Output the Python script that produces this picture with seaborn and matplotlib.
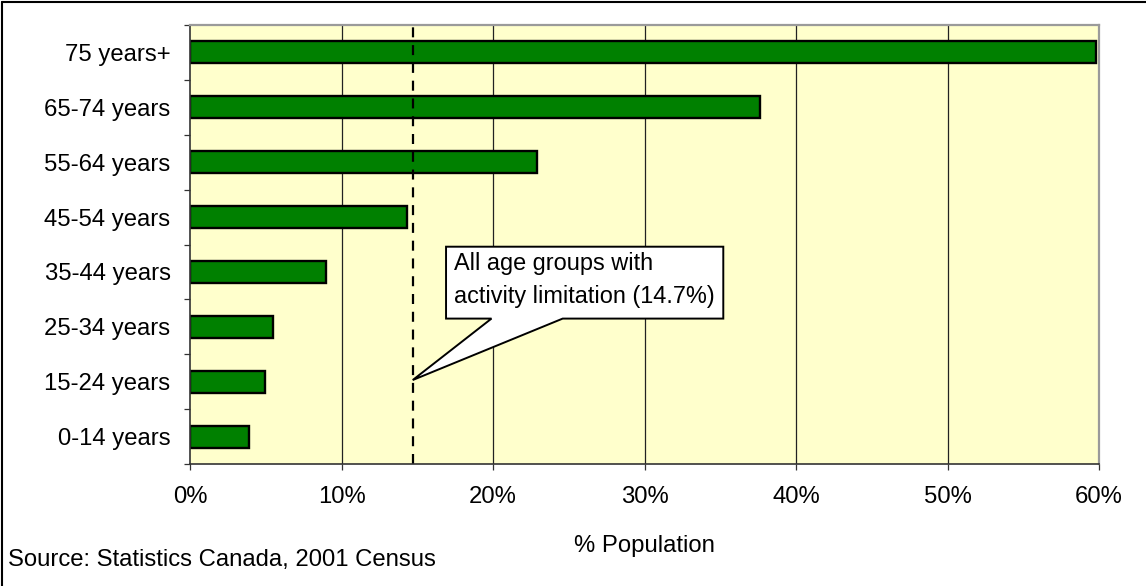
import matplotlib
matplotlib.use("Agg")
import matplotlib.pyplot as plt
from matplotlib.lines import Line2D
from matplotlib.patches import Polygon
from matplotlib.ticker import FixedLocator, FuncFormatter
import pandas as pd
import seaborn as sns

# Share of each age group reporting an activity limitation (%)
age_groups = ["75 years+", "65-74 years", "55-64 years", "45-54 years",
              "35-44 years", "25-34 years", "15-24 years", "0-14 years"]
pct_limited = [59.8, 37.6, 22.9, 14.3, 9.0, 5.5, 4.95, 3.9]
all_ages_pct = 14.7

x_ticks = [0, 10, 20, 30, 40, 50, 60]
x_label = "% Population"
source_note = "Source: Statistics Canada, 2001 Census"
callout_lines = ["All age groups with", "activity limitation (14.7%)"]

df = pd.DataFrame({"group": age_groups, "pct": pct_limited})

sns.set_theme(style="white")
plt.rcParams["font.family"] = ["Liberation Sans", "DejaVu Sans"]
plt.rcParams["text.color"] = "black"
plt.rcParams["xtick.color"] = "black"
plt.rcParams["ytick.color"] = "black"
plt.rcParams["axes.labelcolor"] = "black"
FS = 17.2

fig = plt.figure(figsize=(11.46, 5.86), dpi=100)
ax = fig.add_axes([0.1658, 0.2082, 0.7932, 0.7491])
ax.set_facecolor("#FFFFCC")

sns.barplot(data=df, x="pct", y="group", order=age_groups, orient="h",
            color="#008000", saturation=1, width=0.4,
            edgecolor="black", linewidth=1.7, ax=ax, zorder=3)

ax.set_xlim(0, 60)
ax.set_ylim(len(age_groups) - 0.5, -0.5)

# vertical gridlines at every 10 %
for v in x_ticks[1:-1]:
    ax.axvline(v, color="#222222", linewidth=0.9, zorder=1)

# reference line for all age groups
ax.axvline(all_ages_pct, color="black", linewidth=1.6,
           linestyle=(0, (4.5, 3.5)), zorder=4)

ax.xaxis.set_major_locator(FixedLocator(x_ticks))
ax.xaxis.set_major_formatter(FuncFormatter(lambda v, p: f"{v:.0f}%"))
ax.tick_params(axis="x", which="major", direction="out", length=4,
               width=0.9, color="#333333", labelsize=FS, pad=12,
               bottom=True)
ax.tick_params(axis="y", which="major", length=0, labelsize=FS, pad=14,
               left=True)
ax.yaxis.set_minor_locator(FixedLocator(
    [i - 0.5 for i in range(len(age_groups) + 1)]))
ax.tick_params(axis="y", which="minor", direction="out", length=4,
               width=0.9, color="#333333", left=True)

ax.set_xlabel(x_label, fontsize=FS, labelpad=19)
ax.set_ylabel("")

for side in ("left", "bottom"):
    ax.spines[side].set_color("#333333")
    ax.spines[side].set_linewidth(1.2)
for side in ("top", "right"):
    ax.spines[side].set_color("#9a9a9a")
    ax.spines[side].set_linewidth(1.6)
for s in ax.spines.values():
    s.set_zorder(5)

# callout box with a pointer to the reference line
row_15_24 = age_groups.index("15-24 years")
box_l, box_r = 16.9, 35.2
box_t, box_b = 3.54, 4.85
base_l, base_r = 19.9, 24.6
tip = (all_ages_pct, row_15_24 - 0.03)
callout = Polygon([(box_l, box_t), (box_r, box_t), (box_r, box_b),
                   (base_r, box_b), tip, (base_l, box_b), (box_l, box_b)],
                  closed=True, facecolor="white", edgecolor="black",
                  linewidth=1.4, zorder=6, joinstyle="miter")
ax.add_patch(callout)
ax.text(box_l + 0.55, box_t + 0.31, callout_lines[0], fontsize=FS - 0.3,
        va="center", ha="left", zorder=7)
ax.text(box_l + 0.55, box_t + 0.91, callout_lines[1], fontsize=FS - 0.3,
        va="center", ha="left", zorder=7)

fig.text(8 / 1146, 1 - 560 / 586, source_note, fontsize=FS,
         ha="left", va="center")

# outer frame (top and left edges)
fig.add_artist(Line2D([1.5 / 1146, 1], [1 - 1.5 / 586, 1 - 1.5 / 586],
                      transform=fig.transFigure, color="black", linewidth=1.5))
fig.add_artist(Line2D([1.5 / 1146, 1.5 / 1146], [0, 1 - 1.5 / 586],
                      transform=fig.transFigure, color="black", linewidth=1.5))

fig.savefig("out.png", dpi=100, facecolor="white")
